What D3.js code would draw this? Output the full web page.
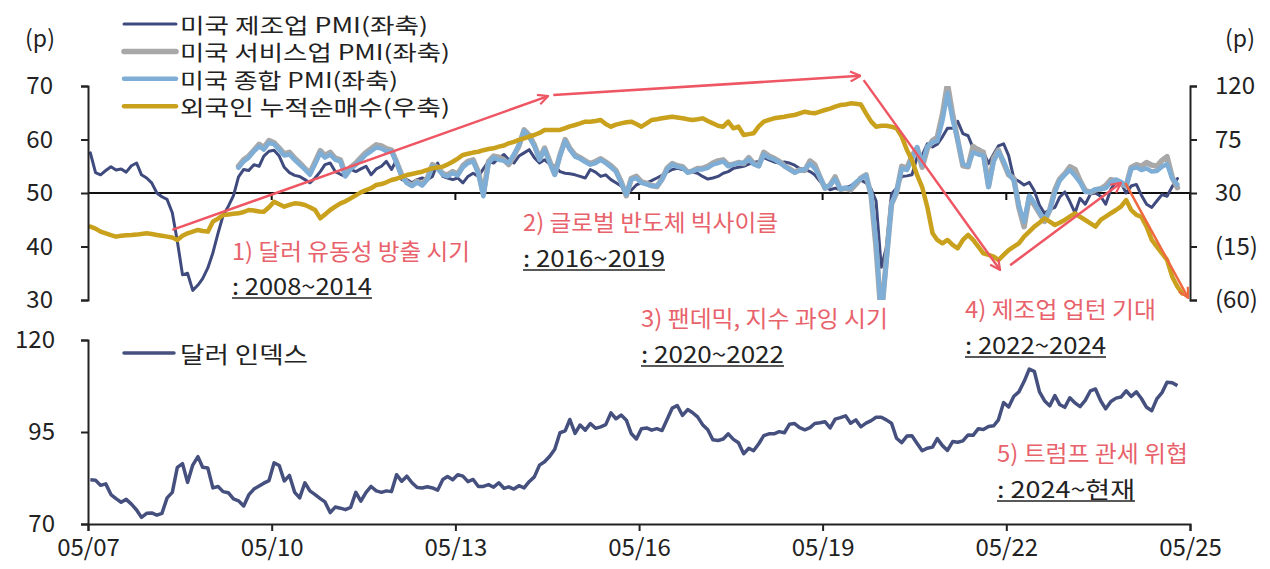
<!DOCTYPE html>
<html>
<head>
<meta charset="utf-8">
<script src="https://cdn.jsdelivr.net/npm/d3@7"></script>
<style>
body { margin: 0; background: #fff; }
text { font-family: "Noto Sans CJK KR", "Noto Sans", sans-serif; fill: #222; }
</style>
</head>
<body>
<svg id="chart" width="1270" height="569"></svg>
<script>
// ---- data (monthly) ----
var pmiStart = "2007-05";
var svcStart = "2009-10";

// 미국 제조업 PMI (좌축)
var mfgPMI = [
	57.5, 53.8, 53.4, 54.2, 54.9, 54.3, 54.5, 53.9,
	55.1, 55.6, 53.4, 52.8, 51.9, 50.0, 49.3, 48.8, 46.3, 41.0, 34.7, 35.0,
	31.8, 32.8, 34.0, 36.0, 38.8, 42.5, 45.8, 47.5, 49.5, 53.0, 54.4, 54.2,
	55.3, 55.0, 56.9, 57.8, 58.0, 56.9, 54.8, 53.8, 53.3, 53.1, 52.5, 51.9,
	52.8, 54.0, 55.3, 55.6, 54.0, 53.5, 53.1, 54.4, 54.0, 54.5, 55.0, 53.4,
	54.5, 55.0, 55.9, 54.4, 56.2, 52.5, 52.5, 51.9, 52.5, 52.8, 52.5, 53.1,
	55.6, 53.1, 52.8, 52.5, 52.8, 51.9, 53.1, 53.7, 53.1, 54.5, 55.9, 55.6,
	56.5, 57.2, 56.2, 55.6, 56.9, 57.5, 58.1, 56.6, 55.6, 56.2, 55.4, 55.0,
	54.0, 53.7, 53.6, 53.4, 53.1, 52.8, 54.4, 53.9, 53.1, 53.4, 52.5, 51.9,
	51.3, 50.2, 50.5, 51.5, 51.9, 51.9, 52.3, 52.8, 53.3, 53.9, 54.4, 54.6,
	54.4, 54.2, 53.9, 53.7, 53.1, 52.6, 52.8, 53.1, 53.7, 54.0, 54.6, 54.8,
	55.0, 55.4, 55.7, 55.9, 56.6, 56.2, 55.8, 55.6, 55.8, 55.6, 55.2, 54.6,
	54.4, 54.0, 53.4, 52.2, 51.2, 50.6, 50.9, 50.6, 51.0, 51.3, 52.0, 52.4,
	51.9, 50.7, 48.5, 36.1, 39.8, 49.8, 50.9, 53.1, 53.2, 53.4, 56.7, 57.1,
	59.2, 58.6, 59.1, 60.5, 62.1, 62.1, 63.4, 61.1, 60.7, 58.4, 58.3, 57.7,
	55.5, 57.3, 58.8, 59.2, 57.0, 52.7, 52.2, 51.5, 52.0, 50.4, 47.7, 46.2,
	46.9, 47.3, 49.2, 50.2, 48.4, 46.3, 49.0, 47.9, 49.8, 50.0, 49.4, 47.9,
	50.7, 52.2, 51.9, 50.0, 51.3, 51.6, 49.6, 47.9, 47.3, 48.5, 49.7, 49.4,
	51.2, 52.7
];

// 미국 서비스업 PMI (좌축)
var svcPMI = [
	55.0, 56.2, 56.9,
	58.0, 59.1, 58.5, 59.8, 59.4, 58.4, 57.3, 57.6, 56.5, 55.6, 54.6, 53.7,
	55.8, 57.9, 57.0, 57.6, 56.5, 56.2, 53.4, 54.8, 55.6, 56.6, 57.6, 58.3,
	59.0, 58.8, 58.3, 58.0, 55.8, 53.3, 52.0, 51.4, 52.2, 51.6, 52.8, 55.3,
	54.8, 53.6, 53.4, 54.0, 53.5, 55.1, 55.9, 56.2, 53.9, 49.8, 55.9, 56.9,
	56.7, 56.2, 55.3, 57.0, 58.8, 61.8, 60.8, 59.0, 56.4, 58.4, 55.9, 53.5,
	57.1, 60.0, 58.3, 57.1, 56.6, 56.0, 55.5, 55.9, 56.4, 55.8, 55.1, 54.2,
	52.1, 49.5, 52.7, 53.1, 52.1, 51.8, 51.4, 51.2, 52.6, 54.6, 55.5, 55.1,
	54.9, 53.9, 54.1, 54.6, 54.6, 55.0, 55.6, 56.0, 56.2, 55.2, 55.4, 55.7,
	55.5, 56.6, 55.5, 55.1, 57.6, 56.9, 56.5, 55.9, 55.1, 54.5, 53.9, 54.3,
	54.2, 56.0, 55.3, 53.0, 50.9, 51.5, 53.0, 50.7, 50.9, 50.6, 51.6, 52.8,
	53.4, 49.4, 39.8, 26.7, 37.5, 47.9, 50.0, 55.0, 54.6, 56.9, 58.4, 54.8,
	58.3, 59.8, 60.4, 64.7, 70.4, 64.6, 59.9, 55.1, 54.9, 58.7, 58.0, 57.6,
	51.2, 56.5, 58.0, 55.6, 53.4, 52.7, 47.3, 43.7, 49.3, 47.8, 46.2, 44.7,
	46.8, 50.6, 52.6, 53.6, 54.9, 54.4, 52.3, 50.5, 50.1, 50.6, 50.8, 51.4,
	52.5, 52.3, 51.7, 51.3, 54.8, 55.3, 55.0, 55.7, 55.2, 55.0, 56.1, 56.8,
	52.9, 51.0
];

// 미국 종합 PMI (좌축)
var compPMI = [
	54.7, 55.9, 56.6,
	57.8, 58.7, 58.1, 59.4, 59.1, 58.1, 57.0, 57.2, 56.2, 55.3, 54.4, 53.4,
	55.4, 57.5, 56.6, 57.2, 56.2, 55.9, 53.1, 54.5, 55.3, 56.2, 57.2, 57.8,
	58.5, 58.3, 57.8, 57.8, 55.6, 53.1, 51.9, 51.3, 52.0, 51.4, 52.5, 55.0,
	54.5, 53.4, 53.1, 53.7, 53.3, 54.8, 55.6, 55.9, 53.6, 49.4, 55.6, 56.6,
	56.2, 56.0, 55.6, 57.2, 59.0, 61.6, 60.4, 58.8, 56.2, 58.1, 55.6, 53.4,
	56.9, 59.7, 58.1, 56.8, 56.4, 55.8, 55.3, 55.6, 56.2, 55.6, 54.8, 54.0,
	51.9, 49.7, 52.5, 52.8, 51.9, 51.6, 51.3, 51.3, 52.5, 54.4, 55.3, 54.9,
	54.7, 53.8, 54.1, 54.4, 54.4, 54.7, 55.3, 55.6, 55.9, 55.0, 55.3, 55.6,
	55.6, 56.3, 55.4, 55.0, 57.2, 56.6, 56.3, 55.7, 55.0, 54.4, 53.8, 54.2,
	54.4, 55.5, 54.6, 53.0, 50.9, 51.5, 52.6, 50.7, 51.0, 50.9, 52.0, 52.7,
	53.3, 49.6, 40.9, 27.0, 37.0, 47.9, 50.3, 54.6, 54.3, 56.3, 58.6, 55.3,
	58.7, 59.5, 59.7, 63.5, 68.7, 63.7, 59.9, 55.4, 55.0, 57.6, 57.2, 57.0,
	51.1, 55.9, 57.7, 56.0, 53.6, 52.3, 47.7, 44.6, 49.5, 48.2, 46.4, 45.0,
	46.8, 50.1, 52.3, 53.4, 54.3, 53.2, 52.0, 50.2, 50.2, 50.7, 50.7, 50.9,
	52.0, 52.5, 52.1, 51.3, 54.5, 54.8, 54.3, 54.6, 54.0, 54.1, 54.9, 55.4,
	52.7, 51.6
];

// 외국인 누적순매수 (우축)
var foreignNet = [
	1.7, 0.0, -2.5, -4.0, -5.5, -6.7, -6.0, -5.5,
	-5.3, -5.0, -4.5, -3.9, -4.5, -5.3, -6.0, -6.7, -7.5, -9.5, -6.0, -3.9,
	-2.5, -1.1, -2.0, -2.5, 5.9, 8.5, 11.5, 12.0, 12.5, 12.9, 14.0, 15.7,
	15.2, 14.5, 14.3, 18.0, 22.7, 20.5, 18.5, 20.0, 21.3, 21.0, 19.9, 18.0,
	15.7, 8.7, 12.0, 15.7, 18.5, 21.3, 23.0, 25.5, 28.0, 30.5, 32.5, 34.0,
	36.7, 37.5, 39.0, 40.9, 42.0, 43.5, 45.1, 46.0, 47.0, 47.9, 49.5, 50.8,
	51.5, 52.2, 54.0, 56.3, 59.0, 62.0, 63.0, 64.0, 64.7, 66.0, 67.0, 67.6,
	69.0, 70.0, 71.8, 73.0, 74.6, 76.0, 77.5, 78.8, 80.5, 83.0, 83.0, 83.0,
	83.0, 84.5, 86.0, 87.2, 88.5, 90.0, 90.0, 90.5, 91.4, 88.0, 85.8, 87.5,
	88.6, 89.5, 90.0, 88.0, 85.8, 88.5, 91.4, 92.0, 92.8, 93.5, 94.2, 93.5,
	92.8, 92.0, 91.4, 92.0, 92.8, 90.5, 88.6, 86.5, 85.8, 90.0, 84.4, 85.8,
	78.8, 79.5, 80.2, 86.0, 90.0, 91.5, 92.8, 93.5, 94.2, 95.0, 95.6, 97.0,
	98.4, 97.5, 97.0, 98.5, 99.8, 101.0, 102.6, 104.0, 104.5, 105.4, 105.0, 104.5,
	97.0, 90.0, 85.8, 86.5, 86.5, 85.8, 84.4, 77.4, 66.2, 57.8, 45.0, 35.0,
	18.0, -3.9, -9.5, -12.3, -9.5, -13.7, -16.5, -9.5, -5.3, -9.5, -15.1, -20.7,
	-22.0, -23.5, -26.4, -22.1, -18.0, -15.1, -12.3, -6.7, -2.5, 1.7, 5.0, 8.7,
	5.9, 3.1, 5.0, 7.3, 10.1, 12.9, 10.0, 7.3, 4.5, 1.7, 7.3, 10.1,
	13.0, 15.7, 18.5, 24.1, 15.7, 11.5, 10.0, 1.7, -9.5, -15.1, -20.7, -26.3,
	-40.4, -48.8, -54.4
];

// 달러 인덱스
var dollarIndex = [
	82.0, 81.9, 80.5, 80.9, 78.0, 76.9, 75.9, 76.7,
	75.4, 73.8, 71.8, 72.9, 73.0, 72.4, 72.9, 77.1, 78.6, 85.4, 86.4, 81.3,
	86.0, 88.3, 85.4, 85.2, 79.8, 80.2, 78.8, 78.5, 76.8, 76.3, 74.9, 77.9,
	79.5, 80.3, 81.1, 81.8, 86.6, 85.9, 81.7, 83.2, 78.6, 77.1, 81.2, 79.0,
	78.0, 76.9, 76.0, 73.1, 74.6, 74.3, 73.9, 74.5, 78.6, 76.2, 78.6, 80.2,
	79.0, 78.6, 79.0, 78.8, 83.4, 81.6, 83.0, 81.2, 79.9, 79.8, 80.1, 79.8,
	79.2, 82.1, 82.9, 82.0, 83.4, 83.0, 81.5, 82.1, 80.2, 80.2, 80.7, 80.0,
	81.2, 79.7, 80.1, 79.5, 80.4, 79.8, 81.5, 82.8, 86.0, 86.9, 88.4, 90.3,
	94.8, 95.3, 98.4, 94.6, 96.9, 95.5, 97.3, 96.0, 96.4, 97.0, 100.2, 98.6,
	99.6, 98.2, 94.6, 93.1, 95.9, 96.1, 95.5, 95.9, 95.4, 98.4, 101.5, 102.2,
	99.5, 101.1, 100.3, 99.1, 97.0, 95.6, 92.9, 92.7, 93.1, 94.5, 93.0, 92.1,
	89.1, 90.6, 89.9, 91.8, 94.0, 94.5, 94.5, 95.1, 94.8, 97.1, 97.3, 96.2,
	95.6, 96.2, 97.3, 97.5, 97.8, 96.1, 98.5, 98.9, 99.4, 97.4, 98.3, 96.4,
	97.4, 98.1, 99.0, 99.0, 98.3, 97.4, 93.3, 92.1, 93.9, 94.0, 91.9, 89.9,
	90.6, 90.9, 93.2, 91.3, 90.0, 92.4, 92.2, 92.6, 94.2, 94.1, 95.9, 95.7,
	96.5, 96.7, 98.3, 103.0, 101.8, 104.7, 105.9, 108.7, 112.1, 111.5, 105.9, 103.5,
	102.1, 104.9, 102.5, 101.7, 104.3, 102.9, 101.9, 103.6, 106.2, 106.7, 103.5, 101.3,
	103.3, 104.2, 104.5, 106.2, 104.7, 105.9, 104.1, 101.7, 100.8, 104.0, 105.7, 108.5,
	108.4, 107.6
];

var xTickLabels = ["05/07", "05/10", "05/13", "05/16", "05/19", "05/22", "05/25"];
var leftTicks = [30, 40, 50, 60, 70];
var rightTicks = [-60, -15, 30, 75, 120];
var dxyTicks = [70, 95, 120];
var legendNames = ["미국 제조업 PMI(좌축)", "미국 서비스업 PMI(좌축)", "미국 종합 PMI(좌축)", "외국인 누적순매수(우축)"];
var dxyName = "달러 인덱스";
var phaseTitles = ["1) 달러 유동성 방출 시기", "2) 글로벌 반도체 빅사이클", "3) 팬데믹, 지수 과잉 시기", "4) 제조업 업턴 기대", "5) 트럼프 관세 위협"];
var phaseRanges = [": 2008~2014", ": 2016~2019", ": 2020~2022", ": 2022~2024", ": 2024~현재"];

// ---- layout ----
var plotL = 88, plotR = 1190;
var topTop = 86, topBottom = 300;
var botTop = 340, botBottom = 524;

var parseMonth = d3.timeParse("%Y-%m");
var parseDay = d3.timeParse("%Y-%m-%d");

// monthly values are drawn mid-month
var toPoints = function(start, values) {
	var s = parseMonth(start);
	return values.map(function(v, i) {
		return { date: d3.timeDay.offset(d3.timeMonth.offset(s, i), 14), value: v };
	});
};

var svg = d3.select("#chart");

var x = d3.scaleTime()
	.domain([parseMonth("2007-05"), parseMonth("2025-05")])
	.range([plotL, plotR]);
var yLeft = d3.scaleLinear().domain([30, 70]).range([topBottom, topTop]);
var yRight = d3.scaleLinear().domain([-60, 120]).range([topBottom, topTop]);
var yDxy = d3.scaleLinear().domain([70, 120]).range([botBottom, botTop]);

var tickDates = xTickLabels.map(function(l) {
	var p = l.split("/");
	return new Date(2000 + (+p[1]), (+p[0]) - 1, 1);
});

var defs = svg.append("defs");
defs.append("clipPath").attr("id", "clipTop")
	.append("rect")
	.attr("x", plotL).attr("y", topTop)
	.attr("width", plotR - plotL).attr("height", topBottom - topTop);

// arrow heads
var arrowColors = { red: "#ee5663", orange: "#f0683f" };
Object.keys(arrowColors).forEach(function(k) {
	defs.append("marker")
		.attr("id", "head-" + k)
		.attr("viewBox", "0 0 12 12")
		.attr("refX", 11).attr("refY", 6)
		.attr("markerWidth", 12).attr("markerHeight", 12)
		.attr("markerUnits", "userSpaceOnUse")
		.attr("orient", "auto")
		.append("path")
		.attr("d", "M1,1 L11,6 L1,11")
		.attr("fill", "none")
		.attr("stroke", arrowColors[k])
		.attr("stroke-width", 2.2);
});

var series = [
	{ points: toPoints(pmiStart, mfgPMI), y: yLeft, color: "#3f4b7e", width: 3 },
	{ points: toPoints(svcStart, svcPMI), y: yLeft, color: "#a8a8a8", width: 5.5 },
	{ points: toPoints(svcStart, compPMI), y: yLeft, color: "#7eaed6", width: 4.5 },
	{ points: toPoints(pmiStart, foreignNet), y: yRight, color: "#c9a11c", width: 4.5 }
];

// ---- top panel ----
var topPanel = svg.append("g");

// 50 line used as the x axis of the top panel
topPanel.append("line")
	.attr("x1", plotL).attr("x2", plotR)
	.attr("y1", yLeft(50)).attr("y2", yLeft(50))
	.attr("stroke", "#111").attr("stroke-width", 2);
topPanel.selectAll(".xtick-top")
	.data(tickDates.slice(1))
	.enter().append("line")
	.attr("x1", function(d) { return x(d); }).attr("x2", function(d) { return x(d); })
	.attr("y1", yLeft(50)).attr("y2", yLeft(50) + 7)
	.attr("stroke", "#111").attr("stroke-width", 2);

var lines = topPanel.append("g").attr("clip-path", "url(#clipTop)");
series.forEach(function(s) {
	var line = d3.line()
		.x(function(d) { return x(d.date); })
		.y(function(d) { return s.y(d.value); });
	lines.append("path")
		.datum(s.points)
		.attr("d", line)
		.attr("fill", "none")
		.attr("stroke", s.color)
		.attr("stroke-width", s.width)
		.attr("stroke-linejoin", "round")
		.attr("stroke-linecap", "round");
});

var leftAxis = topPanel.append("g")
	.attr("transform", "translate(" + plotL + ",0)")
	.call(d3.axisLeft(yLeft).tickValues(leftTicks).tickSize(7).tickPadding(28));
var rightAxis = topPanel.append("g")
	.attr("transform", "translate(" + plotR + ",0)")
	.call(d3.axisRight(yRight).tickValues(rightTicks).tickSize(7).tickPadding(18)
		.tickFormat(function(v) { return v < 0 ? "(" + (-v) + ")" : v; }));

// ---- bottom panel ----
var bottomPanel = svg.append("g");
bottomPanel.append("path")
	.datum(toPoints(pmiStart, dollarIndex))
	.attr("d", d3.line().x(function(d) { return x(d.date); }).y(function(d) { return yDxy(d.value); }))
	.attr("fill", "none")
	.attr("stroke", "#45507f")
	.attr("stroke-width", 3.5)
	.attr("stroke-linejoin", "round");

var dxyAxis = bottomPanel.append("g")
	.attr("transform", "translate(" + plotL + ",0)")
	.call(d3.axisLeft(yDxy).tickValues(dxyTicks).tickSize(7).tickPadding(26));
var xAxis = bottomPanel.append("g")
	.attr("transform", "translate(0," + botBottom + ")")
	.call(d3.axisBottom(x).tickValues(tickDates).tickSize(7).tickPadding(8)
		.tickFormat(function(d, i) { return xTickLabels[i]; }));

[leftAxis, rightAxis, dxyAxis, xAxis].forEach(function(a) {
	a.select(".domain").attr("stroke", "#222").attr("stroke-width", 2);
	a.selectAll(".tick line").attr("stroke", "#222").attr("stroke-width", 2);
	a.selectAll(".tick text")
		.attr("font-size", 24)
		.attr("fill", "#222")
		.style("font-family", "'Noto Sans CJK KR', sans-serif");
});

// unit labels
svg.append("text").attr("x", 40).attr("y", 37).attr("text-anchor", "middle")
	.attr("dominant-baseline", "central").attr("font-size", 23).text("(p)");
svg.append("text").attr("x", 1240).attr("y", 37).attr("text-anchor", "middle")
	.attr("dominant-baseline", "central").attr("font-size", 23).text("(p)");

// ---- legends ----
var legendWidths = [248, 270, 218, 270];
var legend = svg.append("g");
legendNames.forEach(function(name, i) {
	var ly = 24 + i * 27.4;
	legend.append("line")
		.attr("x1", 124).attr("x2", 176)
		.attr("y1", ly).attr("y2", ly)
		.attr("stroke", series[i].color)
		.attr("stroke-width", series[i].width)
		.attr("stroke-linecap", "round");
	legend.append("text")
		.attr("x", 180).attr("y", ly)
		.attr("dominant-baseline", "central")
		.attr("font-size", 21)
		.attr("textLength", legendWidths[i])
		.attr("lengthAdjust", "spacingAndGlyphs")
		.text(name);
});
legend.append("line")
	.attr("x1", 124).attr("x2", 174).attr("y1", 353).attr("y2", 353)
	.attr("stroke", "#45507f").attr("stroke-width", 3.5).attr("stroke-linecap", "round");
legend.append("text")
	.attr("x", 180).attr("y", 353)
	.attr("dominant-baseline", "central")
	.attr("font-size", 23)
	.attr("textLength", 128)
	.attr("lengthAdjust", "spacingAndGlyphs")
	.text(dxyName);

// ---- arrows (data space: date, left-axis value) ----
var arrows = [
	{ from: ["2008-09-15", 43.1], to: ["2014-11-05", 68.1], color: "red" },
	{ from: ["2014-12-06", 68.3], to: ["2019-12-12", 71.9], color: "red" },
	{ from: ["2020-01-01", 71.1], to: ["2022-03-25", 35.6], color: "red" },
	{ from: ["2022-05-24", 36.5], to: ["2024-03-16", 51.9], color: "red" },
	{ from: ["2024-04-10", 51.9], to: ["2025-04-20", 30.4], color: "orange" }
];
svg.append("g").selectAll("line")
	.data(arrows)
	.enter().append("line")
	.attr("x1", function(d) { return x(parseDay(d.from[0])); })
	.attr("y1", function(d) { return yLeft(d.from[1]); })
	.attr("x2", function(d) { return x(parseDay(d.to[0])); })
	.attr("y2", function(d) { return yLeft(d.to[1]); })
	.attr("stroke", function(d) { return arrowColors[d.color]; })
	.attr("stroke-width", 2.5)
	.attr("marker-end", function(d) { return "url(#head-" + d.color + ")"; });

// ---- phase notes ----
var notePos = [
	{ x: 232, ty: 250, sy: 285, tw: 238, sw: 140 },
	{ x: 523, ty: 221, sy: 257, tw: 255, sw: 142 },
	{ x: 641, ty: 317, sy: 353, tw: 247, sw: 143 },
	{ x: 965, ty: 308, sy: 344, tw: 191, sw: 141 },
	{ x: 997, ty: 452, sy: 488, tw: 191, sw: 138 }
];
var notes = svg.append("g");
phaseTitles.forEach(function(t, i) {
	var p = notePos[i];
	notes.append("text")
		.attr("x", p.x).attr("y", p.ty)
		.attr("dominant-baseline", "central")
		.attr("font-size", 23)
		.style("fill", "#e8626b")
		.attr("textLength", p.tw)
		.attr("lengthAdjust", "spacingAndGlyphs")
		.text(t);
	notes.append("text")
		.attr("x", p.x).attr("y", p.sy)
		.attr("dominant-baseline", "central")
		.attr("font-size", 23)
		.attr("textLength", p.sw)
		.attr("lengthAdjust", "spacingAndGlyphs")
		.text(phaseRanges[i]);
	notes.append("line")
		.attr("x1", p.x).attr("x2", p.x + p.sw)
		.attr("y1", p.sy + 13).attr("y2", p.sy + 13)
		.attr("stroke", "#222").attr("stroke-width", 1.5);
});
</script>
</body>
</html>
